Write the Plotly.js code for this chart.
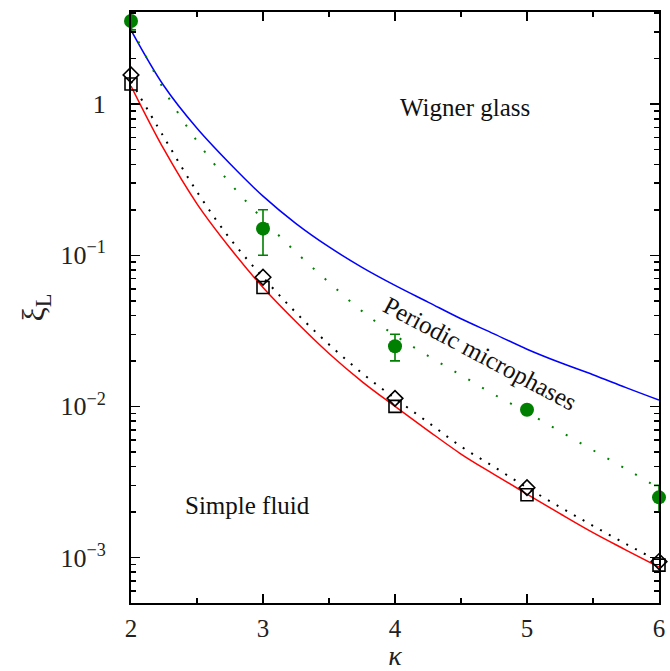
<!DOCTYPE html>
<html>
<head>
<meta charset="utf-8">
<script src="https://cdn.plot.ly/plotly-3.0.1.min.js"></script>
<style>html,body{margin:0;padding:0;background:#fff;}#plot{width:670px;height:671px;}</style>
</head>
<body>
<div id="plot"></div>
<script>
// Curves
const blueK = [2, 2.25, 2.5, 2.75, 3, 3.25, 3.5, 3.75, 4, 4.25, 4.5, 4.75, 5, 5.25, 5.5, 5.75, 6];
const blueY = [3.09, 1.318, 0.692, 0.403, 0.246, 0.162, 0.1135, 0.0832, 0.0632, 0.049, 0.038, 0.0302, 0.0239, 0.0195, 0.0162, 0.0133, 0.011];

const redK = [2, 2.25, 2.5, 2.75, 3, 3.25, 3.5, 3.75, 4, 4.25, 4.5, 4.75, 5, 5.25, 5.5, 5.75, 6];
const redY = [1.318, 0.501, 0.219, 0.1117, 0.0612, 0.0363, 0.0224, 0.0146, 0.0100, 0.00692, 0.00484, 0.00355, 0.00263, 0.00195, 0.00146, 0.00112, 0.000863];

const blackK = [2, 2.25, 2.5, 2.75, 3, 3.25, 3.5, 3.75, 4, 4.25, 4.5, 4.75, 5, 5.25, 5.5, 5.75, 6];
const blackY = [1.413, 0.603, 0.263, 0.1288, 0.0715, 0.0417, 0.0257, 0.0166, 0.0113, 0.00785, 0.00543, 0.00398, 0.0029, 0.00216, 0.00162, 0.00123, 0.00094];

const greenK = [2, 2.25, 2.5, 2.75, 3, 3.25, 3.5, 3.75, 4, 4.25, 4.5, 4.75, 5, 5.25, 5.5, 5.75, 6];
const greenY = [3.24, 1.245, 0.569, 0.30, 0.173, 0.1047, 0.0661, 0.0427, 0.0295, 0.0216, 0.0161, 0.0120, 0.00912, 0.00684, 0.00513, 0.00385, 0.00288];

// Points
const ptK = [2, 3, 4, 5, 6];
const circleY = [3.55, 0.15, 0.025, 0.0095, 0.0025];
const circleErrPlus = [0.6, 0.05, 0.005, 0, 0.0005];
const circleErrMinus = [0.45, 0.05, 0.005, 0, 0.0005];
const squareY = [1.36, 0.0612, 0.0100, 0.0026, 0.00089];
const diamondY = [1.56, 0.0715, 0.0113, 0.0029, 0.00094];

const yTickVals = [0.001, 0.01, 0.1, 1];
const yTickText = ['10<sup>−3</sup>', '10<sup>−2</sup>', '10<sup>−1</sup>', '1'];
const xTickVals = [2, 3, 4, 5, 6];

const serif = 'Liberation Serif';

const traces = [
  {x: blueK, y: blueY, mode: 'lines', line: {color: '#0000ff', width: 1.5, shape: 'spline', smoothing: 1}, hoverinfo: 'skip'},
  {x: greenK, y: greenY, mode: 'lines', line: {color: '#008000', width: 2, dash: '2px,14px', shape: 'spline', smoothing: 1}, hoverinfo: 'skip'},
  {x: blackK, y: blackY, mode: 'lines', line: {color: '#000000', width: 2, dash: '2px,8px', shape: 'spline', smoothing: 1}, hoverinfo: 'skip'},
  {x: redK, y: redY, mode: 'lines', line: {color: '#ff0000', width: 1.5, shape: 'spline', smoothing: 1}, hoverinfo: 'skip'},
  {x: ptK, y: squareY, mode: 'markers', cliponaxis: false,
   marker: {symbol: 'square-open', size: 12, color: '#000', line: {width: 1.6, color: '#000'}}},
  {x: ptK, y: diamondY, mode: 'markers', cliponaxis: false,
   marker: {symbol: 'diamond-open', size: 12, color: '#000', line: {width: 1.6, color: '#000'}}},
  {x: ptK, y: circleY, mode: 'markers', cliponaxis: false,
   marker: {symbol: 'circle', size: 14, color: '#008000'},
   error_y: {type: 'data', symmetric: false, array: circleErrPlus, arrayminus: circleErrMinus,
             color: '#008000', thickness: 1.6, width: 5}}
];

const layout = {
  width: 670, height: 671,
  margin: {l: 131, r: 11, t: 12, b: 68},
  paper_bgcolor: '#fff', plot_bgcolor: '#fff',
  showlegend: false,
  font: {family: serif, color: '#000', size: 25},
  xaxis: {
    range: [2, 6], tickvals: xTickVals, ticktext: xTickVals.map(String),
    ticks: 'inside', ticklen: 9, tickwidth: 1.5, tickcolor: '#000',
    showline: true, linecolor: '#000', linewidth: 2, mirror: 'allticks',
    showgrid: false, zeroline: false,
    tickfont: {family: serif, size: 25, color: '#222'},
    ticklabelstandoff: 2,
    minor: {ticks: 'inside', ticklen: 5, tickwidth: 1.5, tickcolor: '#000', dtick: 0.5, showgrid: false},
    title: {text: '<i>κ</i>', font: {family: serif, size: 28, color: '#222'}, standoff: 2}
  },
  yaxis: {
    type: 'log', range: [Math.log10(5.0e-4), Math.log10(4.07)],
    tickvals: yTickVals, ticktext: yTickText,
    ticks: 'inside', ticklen: 9, tickwidth: 1.5, tickcolor: '#000',
    showline: true, linecolor: '#000', linewidth: 2, mirror: 'allticks',
    showgrid: false, zeroline: false,
    tickfont: {family: serif, size: 26, color: '#222'},
    ticklabelstandoff: 18,
    minor: {ticks: 'inside', ticklen: 5, tickwidth: 1.5, tickcolor: '#000', dtick: 'D1', showgrid: false},
    title: {text: 'ξ<sub>L</sub>', font: {family: serif, size: 32, color: '#222'}, standoff: 6}
  },
  annotations: [
    {x: 4.53, y: Math.log10(0.955), xref: 'x', yref: 'y', text: 'Wigner glass', showarrow: false,
     font: {family: serif, size: 25, color: '#111'}},
    {x: 2.886, y: Math.log10(0.00221), xref: 'x', yref: 'y', text: 'Simple fluid', showarrow: false,
     font: {family: serif, size: 25, color: '#111'}},
    {x: 4.645, y: Math.log10(0.0225), xref: 'x', yref: 'y', text: 'Periodic microphases', showarrow: false,
     textangle: 28, font: {family: serif, size: 25, color: '#111'}}
  ]
};

Plotly.newPlot('plot', traces, layout, {displayModeBar: false, staticPlot: true});
</script>
</body>
</html>
